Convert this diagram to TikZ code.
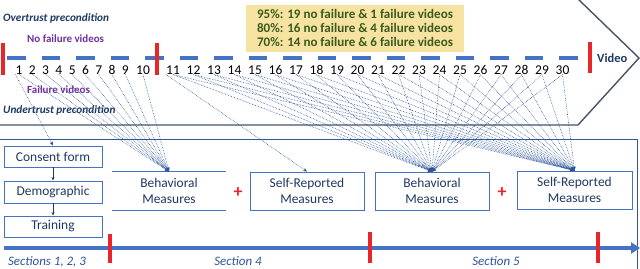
\documentclass[tikz,border=0pt]{standalone}
\usepackage{fontspec}
\setmainfont{Carlito}
\usetikzlibrary{arrows.meta}
\definecolor{navy}{HTML}{1F3864}
\definecolor{mblue}{HTML}{4472C4}
\definecolor{lblue}{HTML}{2F5597}
\definecolor{mred}{HTML}{E8262A}
\definecolor{mpurple}{HTML}{7030A0}
\definecolor{myellow}{HTML}{F6E3A1}
\definecolor{mgreen}{HTML}{3A5A1E}
\definecolor{frame}{HTML}{44546A}
\begin{document}
\begin{tikzpicture}[x=1bp,y=-1bp,
  num/.style={font=\fontsize{13.5}{14}\selectfont, inner sep=0pt, text=black},
  redbar/.style={draw=mred, line width=4bp},
  mbox/.style={draw=mblue, line width=0.9bp, text=navy, align=center, font=\fontsize{13.5}{15.5}\selectfont, inner sep=0pt},
  conn/.style={draw=lblue, densely dotted, line width=0.6bp, -{Stealth[length=4bp,width=3.5bp]}},
  sect/.style={text=lblue, font=\itshape\fontsize{13}{14}\selectfont, inner sep=0pt},
  plus/.style={text=mred, font=\bfseries\fontsize{18}{18}\selectfont, inner sep=0pt},
  lab/.style={font=\bfseries\itshape\fontsize{11.3}{12}\selectfont, text=navy, anchor=west, inner sep=0pt},
  plab/.style={font=\bfseries\fontsize{11}{12}\selectfont, text=mpurple, anchor=west, inner sep=0pt}]
\useasboundingbox (0,0) rectangle (640,268);
% pentagon outline
\draw[frame, line width=1.4bp] (-2,125) -- (578,125) -- (639,58) -- (577,-2);
\draw[lblue, line width=0.9bp] (-2,139) -- (637,139) -- (637,270);
% yellow box
\node[fill=myellow, minimum width=218bp, minimum height=47bp, inner sep=0pt, align=left,
  text=mgreen, font=\bfseries\fontsize{13.1}{14}\selectfont] (ybox) at (355,28)
  {95\%: 19 no failure \& 1 failure videos\\80\%: 16 no failure \& 4 failure videos\\70\%: 14 no failure \& 6 failure videos};
% labels
\node[lab] (over) at (3,18) {Overtrust precondition};
\node[plab] (nofail) at (27,39) {No failure videos};
\node[plab] (fail) at (27,90) {Failure videos};
\node[lab] (under) at (3,110) {Undertrust precondition};
% dashed timeline
\draw[mblue, line width=4bp, dash pattern=on 18.5bp off 16bp] (7,58) -- (578,58);
\draw[redbar] (3,43) -- (3,75);
\draw[redbar] (157,43) -- (157,75);
\draw[redbar] (590,42) -- (590,73);
\node[font=\bfseries\fontsize{12.5}{13}\selectfont, text=navy, anchor=west, inner sep=0pt] (video) at (597,58) {Video};
% numbers
\foreach \i in {1,...,9} {
  \node[num] (n\i) at ({19+(\i-1)*13.3},70) {\i};
}
\node[num] (n10) at (143,70) {10};
\foreach \i in {11,...,30} {
  \node[num] (n\i) at ({173+(\i-11)*20.5},70) {\i};
}
% left boxes
\node[mbox, minimum width=98bp, minimum height=21bp] (consent) at (53,156.5) {Consent form};
\node[mbox, minimum width=98bp, minimum height=22bp] (demo) at (53,192) {Demographic};
\node[mbox, minimum width=98bp, minimum height=21bp] (train) at (53,226.5) {Training};
\draw[navy, line width=0.8bp, -{Stealth[length=3.5bp,width=3bp]}] (consent) -- (demo);
\draw[navy, line width=0.8bp, -{Stealth[length=3.5bp,width=3bp]}] (demo) -- (train);
% measure boxes
\node[mbox, draw=none, minimum width=114bp, minimum height=38bp] (beh1) at (169,191) {Behavioral\\Measures};
\draw[mblue, line width=0.9bp] (beh1.north west) -- (beh1.north east);
\draw[mblue, line width=0.9bp] (beh1.south west) -- (beh1.south east);
\node[plus] (p1) at (238,193) {+};
\node[mbox, minimum width=114bp, minimum height=38bp] (sr1) at (307,191) {Self-Reported\\Measures};
\node[mbox, minimum width=114bp, minimum height=38bp] (beh2) at (432,191) {Behavioral\\Measures};
\node[plus] (p2) at (502,193) {+};
\node[mbox, minimum width=115bp, minimum height=38bp] (sr2) at (574.5,190) {Self-Reported\\Measures};
% connectors
\draw[conn] (n1.south west) -- (consent.north);
\foreach \i in {1,...,10} { \draw[conn] (n\i.south) -- (beh1.north); }
\draw[conn] (n11.south west) -- (sr1.north);
\foreach \i in {11,...,30} {
  \draw[conn] (n\i.south) -- (beh2.north);
  \draw[conn] (n\i.south) -- (sr2.north);
}
% bottom timeline
\draw[mblue, line width=3.5bp, -{Triangle[length=9bp,width=11bp]}] (4,248) -- (640,248);
\draw[redbar] (110,234) -- (110,263);
\draw[redbar] (370,232) -- (370,263);
\draw[redbar] (598,232) -- (598,263);
\node[sect] (s123) at (47,262) {Sections 1, 2, 3};
\node[sect] (s4) at (238,261) {Section 4};
\node[sect] (s5) at (496,261) {Section 5};
\end{tikzpicture}
\end{document}
